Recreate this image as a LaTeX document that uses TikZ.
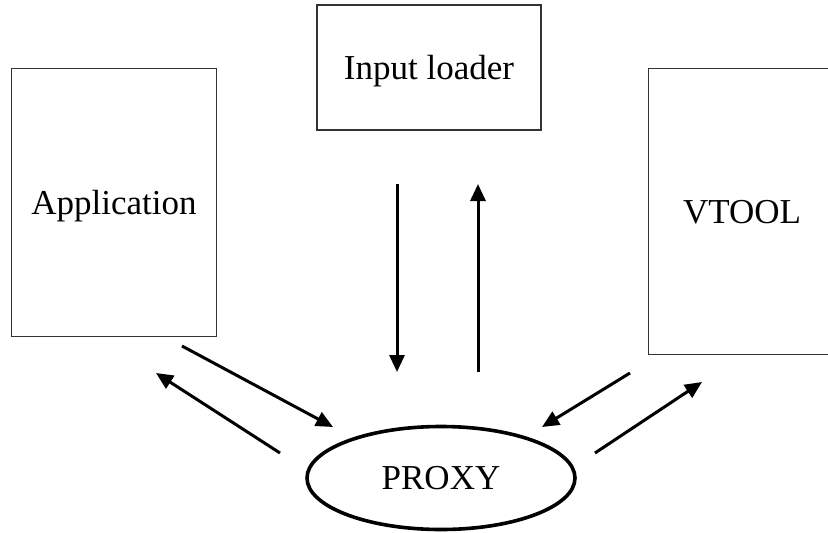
\documentclass[tikz,border=0pt]{standalone}
\usepackage{fontspec}
\setmainfont{Liberation Serif}
\usetikzlibrary{arrows.meta,shapes.geometric}

\tikzset{
  lbl/.style={font=\fontsize{35}{40}\selectfont, text height=23.2pt, text depth=0pt, inner sep=0pt},
  module/.style={lbl, rectangle, draw=black!80, line width=1.2pt},
  hub/.style={lbl, ellipse, draw=black, line width=3.6pt},
  flow/.style={line width=3pt, -{Triangle[length=17pt,width=15pt]}}
}

\begin{document}
\begin{tikzpicture}[x=1pt, y=-1pt]
  \useasboundingbox (0,0) rectangle (828,533);
  \coordinate (corner) at (828,533);

  % components
  \node[module, minimum width=205pt, minimum height=268pt] (app) at (114,202.5) {Application};
  \node[module, minimum width=224pt, minimum height=125pt] (loader) at (429,67.5) {Input loader};
  \node[lbl, minimum width=186pt, minimum height=285pt] (vtool) at (742,211.5) {VTOOL};
  \draw[draw=black!80, line width=1.2pt]
    (vtool.north -| corner) -- (vtool.north west) -- (vtool.south west) -- (vtool.south -| corner);
  \node[hub, minimum width=268pt, minimum height=103pt] (proxy) at (441,478) {PROXY};

  % arrow end points
  \coordinate (app out)   at (182,346);
  \coordinate (proxy in1) at (333,427);
  \coordinate (proxy out1) at (280,453);
  \coordinate (app in)    at (156,373);
  \coordinate (vtool out) at (630,373);
  \coordinate (proxy in2) at (542,427);
  \coordinate (proxy out2) at (595,453);
  \coordinate (vtool in)  at (702,382);
  \coordinate (loader out) at (397,184);
  \coordinate (proxy in3) at (397,372);
  \coordinate (proxy out3) at (478,372);
  \coordinate (loader in) at (478,184);

  % message flows
  \draw[flow] (app out) -- (proxy in1);
  \draw[flow] (proxy out1) -- (app in);
  \draw[flow] (vtool out) -- (proxy in2);
  \draw[flow] (proxy out2) -- (vtool in);
  \draw[flow] (loader out) -- (proxy in3);
  \draw[flow] (proxy out3) -- (loader in);
\end{tikzpicture}
\end{document}
